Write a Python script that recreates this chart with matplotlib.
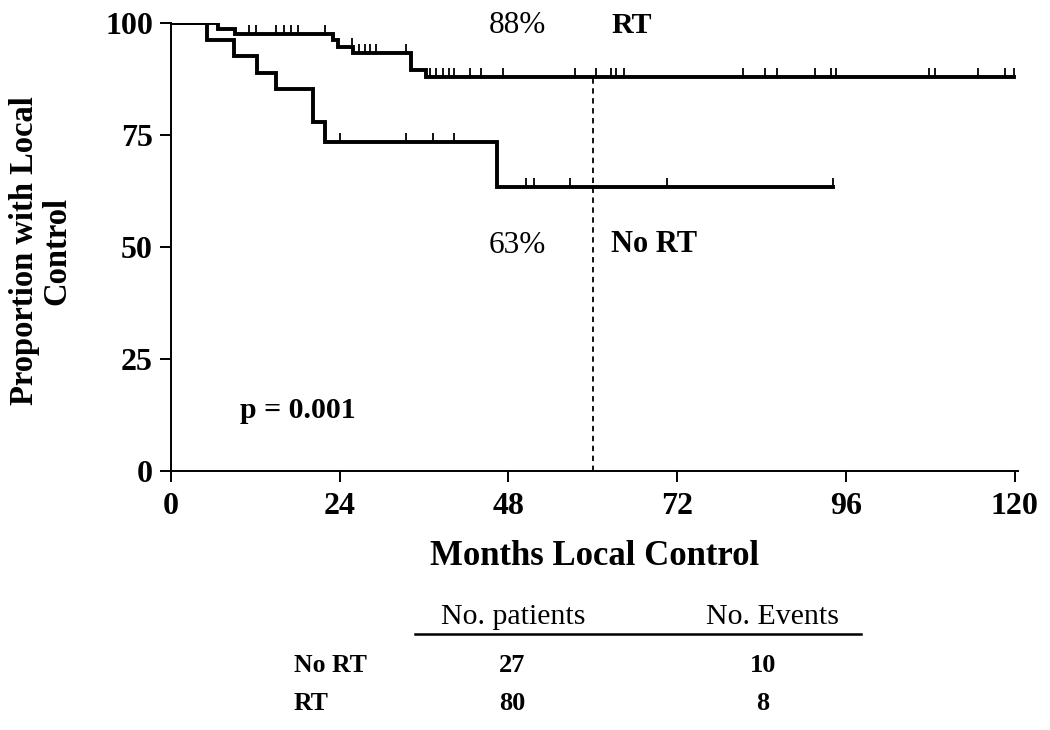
import numpy as np
import matplotlib
matplotlib.use("Agg")
import matplotlib.pyplot as plt

plt.rcParams['font.family'] = ['Liberation Serif', 'DejaVu Serif']

# Kaplan-Meier steps (months, percent)
rt_times = [0, 6.7, 9.1, 23.1, 23.8, 25.9, 34.2, 36.3, 119.9]
rt_surv = [100, 98.75, 97.5, 96.25, 94.6, 93.3, 89.6, 87.9, 87.9]
rt_censor = [0.2, 2.1, 11.1, 12.1, 15.0, 16.0, 17.1, 18.0, 21.9, 25.7, 26.8,
             27.6, 28.3, 29.2, 33.4, 36.8, 37.7, 38.7, 39.6, 40.3, 42.5, 44.1,
             47.2, 57.4, 60.4, 62.6, 63.3, 64.5, 81.4, 84.5, 86.2, 91.6, 93.9,
             94.6, 107.8, 108.7, 114.8, 118.7, 119.9]

nort_times = [0, 5.1, 8.9, 12.2, 15.0, 20.2, 21.9, 46.3, 94.1]
nort_surv = [100, 96.3, 92.6, 88.9, 85.2, 77.8, 73.4, 63.5, 63.5]
nort_censor = [24.0, 33.4, 37.3, 40.2, 50.5, 51.7, 56.8, 70.6, 94.1]

# table under the plot
groups = ['No RT', 'RT']
n_patients = [27, 80]
n_events = [10, 8]

fig = plt.figure(figsize=(10.5, 7.3), dpi=100)
ax = fig.add_axes([0.1629, 0.3548, 0.8067, 0.6137])


def km_value(times, surv, t):
    # value of the step curve at time t
    i = np.searchsorted(times, t, side='right') - 1
    return np.array(surv)[i]


for times, surv, cens in [(rt_times, rt_surv, rt_censor),
                          (nort_times, nort_surv, nort_censor)]:
    ax.step(times, surv, where='post', color='black', lw=2.8,
            solid_joinstyle='miter', zorder=3)
    ax.plot(cens, [km_value(times, surv, c) for c in cens], ls='none',
            marker=2, ms=6.5, mew=1.3, color='black', zorder=3)

# 5 year line
ax.plot([60, 60], [0, km_value(rt_times, rt_surv, 60)], ls=(0, (3, 2.5)),
        color='black', lw=1.3)

ax.set_xlim(0, 120.5)
ax.set_ylim(0, 100)
ax.set_xticks(np.arange(0, 121, 24))
ax.set_yticks(np.arange(0, 101, 25))

for s in ['top', 'right']:
    ax.spines[s].set_visible(False)
for s in ['left', 'bottom']:
    ax.spines[s].set_linewidth(1.4)
    ax.spines[s].set_clip_on(False)
ax.tick_params(direction='out', length=8, width=1.4, labelsize=23, pad=5)
ax.tick_params(axis='x', pad=7)
for lab in ax.get_xticklabels() + ax.get_yticklabels():
    lab.set_fontweight('bold')

ax.set_xlabel('Months Local Control', fontsize=25, fontweight='bold',
              labelpad=14)
fig.text(0.039, 0.656, 'Proportion with Local\nControl', rotation=90,
         fontsize=23.5, fontweight='bold', ha='center', va='center',
         linespacing=1.05)

# annotations
ax.text(49.3, 99.5, '88%', fontsize=22.5, ha='center', va='center')
ax.text(62.6, 99.5, 'RT', fontsize=21.5, fontweight='bold', va='center')
ax.text(49.3, 50.3, '63%', fontsize=22.5, ha='center', va='center')
ax.text(62.6, 50.5, 'No RT', fontsize=22, fontweight='bold', va='center')
ax.text(9.8, 13.6, 'p = 0.001', fontsize=21.5, fontweight='bold', va='center')

# table
fig.text(513 / 1050, 1 - 617 / 730, 'No. patients', fontsize=21.5,
         ha='center', va='center')
fig.text(773 / 1050, 1 - 617 / 730, 'No. Events', fontsize=21.5,
         ha='center', va='center')
fig.add_artist(plt.Line2D([415 / 1050, 861 / 1050], [1 - 634 / 730] * 2,
                          color='black', lw=1.8))
row_y = [665, 703]
for g, n, e, y in zip(groups, n_patients, n_events, row_y):
    fig.text(294 / 1050, 1 - y / 730, g, fontsize=18.5, fontweight='bold',
             va='center')
    fig.text(512 / 1050, 1 - y / 730, str(n), fontsize=19, fontweight='bold',
             ha='center', va='center')
    fig.text(763 / 1050, 1 - y / 730, str(e), fontsize=19, fontweight='bold',
             ha='center', va='center')

fig.savefig('out.png', dpi=100)
